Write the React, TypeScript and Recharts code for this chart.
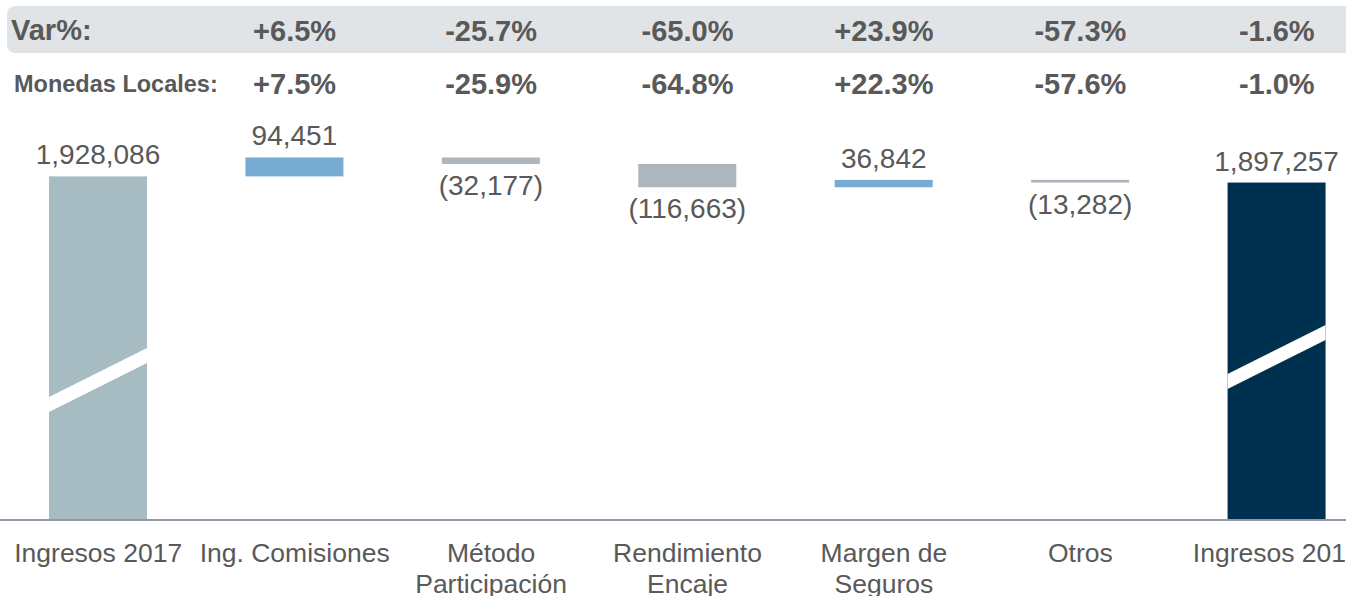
import { BarChart, Bar, XAxis, YAxis, Cell, LabelList } from 'recharts'

// waterfall: Ingresos 2017 -> Ingresos 2018
const CATEGORIES = [
  'Ingresos 2017',
  'Ing. Comisiones',
  'Método\nParticipación',
  'Rendimiento\nEncaje',
  'Margen de\nSeguros',
  'Otros',
  'Ingresos 2018',
]
const AMOUNTS = [1928086, 94451, -32177, -116663, 36842, -13282, 1897257]
const IS_TOTAL = [true, false, false, false, false, false, true]
const VAR_PCT = ['', '+6.5%', '-25.7%', '-65.0%', '+23.9%', '-57.3%', '-1.6%']
const LOCAL_PCT = ['', '+7.5%', '-25.9%', '-64.8%', '+22.3%', '-57.6%', '-1.0%']

const TEXT = '#595959'
const FONT = '"Liberation Sans", Arial, sans-serif'
const COLOR_START = '#a6bbc2'
const COLOR_END = '#00304f'
const COLOR_UP = '#77abd2'
const COLOR_DOWN = '#adb5bd'

// axis is cut (broken bars), so the domain doesn't start at zero
const Y_DOMAIN = [210000, 2260000]

// where the white "break" stripe sits, measured up from the baseline
const BREAK_LIFT: Record<string, number> = { 'Ingresos 2017': 108, 'Ingresos 2018': 131 }

function buildRows() {
  let running = 0
  return CATEGORIES.map((name, i) => {
    const amt = AMOUNTS[i]
    let range: [number, number]
    if (IS_TOTAL[i]) {
      range = [0, amt]
      running = amt
    } else {
      const next = running + amt
      range = [Math.min(running, next), Math.max(running, next)]
      running = next
    }
    return { name, amount: amt, total: IS_TOTAL[i], range }
  })
}

const rows = buildRows()

function barColor(i: number) {
  if (i === 0) return COLOR_START
  if (IS_TOTAL[i]) return COLOR_END
  return AMOUNTS[i] >= 0 ? COLOR_UP : COLOR_DOWN
}

function fmtAmount(v: number) {
  const s = Math.abs(v).toLocaleString('en-US')
  return v < 0 ? `(${s})` : s
}

function WaterfallBar(props: any) {
  const { x, y, width, height, fill, payload, background } = props
  const top = Math.min(y, y + height)
  const h = Math.abs(height)
  const shapes = [<rect key="r" x={x} y={top} width={width} height={h} fill={fill} />]
  if (payload?.total) {
    const bottom = background ? background.y + background.height : top + h
    const lift = BREAK_LIFT[payload.name] ?? 110
    const rise = 49
    const thick = 15
    const pts = [
      [x, bottom - lift],
      [x + width, bottom - lift - rise],
      [x + width, bottom - lift - rise - thick],
      [x, bottom - lift - thick],
    ]
    shapes.push(<polygon key="b" points={pts.map((p) => p.join(',')).join(' ')} fill="#ffffff" />)
  }
  return <g>{shapes}</g>
}

function AmountLabel(props: any) {
  const { x, y, width, height, index } = props
  const amt = AMOUNTS[index]
  if (amt === undefined) return null
  const top = Math.min(y, y + height)
  const bottom = top + Math.abs(height)
  const cx = x + width / 2
  const ty = amt >= 0 ? top - 12 : bottom + 31
  return (
    <text x={cx} y={ty} textAnchor="middle" fill={TEXT} fontSize={28} fontFamily={FONT}>
      {fmtAmount(amt)}
    </text>
  )
}

function HeaderTick(props: any) {
  const { x, payload } = props
  const i = payload.index
  return (
    <g fontFamily={FONT} fontWeight="bold" fontSize={29} fill={TEXT}>
      <text x={x} y={41} textAnchor="middle">{VAR_PCT[i]}</text>
      <text x={x} y={94} textAnchor="middle">{LOCAL_PCT[i]}</text>
    </g>
  )
}

function CategoryTick(props: any) {
  const { x, y, payload } = props
  const lines = String(payload.value).split('\n')
  return (
    <text x={x} y={y} textAnchor="middle" fill={TEXT} fontSize={26.5} fontFamily={FONT}>
      {lines.map((ln, k) => (
        <tspan key={k} x={x} dy={k === 0 ? 42 : 31}>{ln}</tspan>
      ))}
    </text>
  )
}

export default function App() {
  return (
    <div style={{ position: 'fixed', left: 0, top: 0, width: 1346, height: 596, overflow: 'hidden', background: '#fff' }}>
      {/* grey band behind the Var% row */}
      <div
        style={{
          position: 'absolute',
          left: 7,
          top: 6,
          width: 1400,
          height: 47,
          background: '#e1e4e7',
          borderRadius: 8,
        }}
      />
      <div style={{ position: 'absolute', left: 11, top: 4, height: 53, lineHeight: '53px', fontFamily: FONT, fontWeight: 'bold', fontSize: 29, color: TEXT }}>
        Var%:
      </div>
      <div style={{ position: 'absolute', left: 14, top: 61, height: 46, lineHeight: '46px', fontFamily: FONT, fontWeight: 'bold', fontSize: 23.5, color: TEXT }}>
        Monedas Locales:
      </div>
      <div style={{ position: 'absolute', left: 0, top: 0 }}>
        <BarChart width={1375} height={596} data={rows} margin={{ top: 0, right: 0, left: 0, bottom: 0 }} barSize={98}>
          <XAxis
            xAxisId="head"
            orientation="top"
            dataKey="name"
            height={110}
            axisLine={false}
            tickLine={false}
            tick={<HeaderTick />}
            interval={0}
          />
          <XAxis
            dataKey="name"
            height={76}
            axisLine={{ stroke: '#8e9ba6', strokeWidth: 2 }}
            tickLine={false}
            tickSize={0}
            tickMargin={0}
            tick={<CategoryTick />}
            interval={0}
          />
          <YAxis hide domain={Y_DOMAIN} allowDataOverflow />
          <Bar dataKey="range" shape={<WaterfallBar />} isAnimationActive={false}>
            {rows.map((r, i) => (
              <Cell key={r.name} fill={barColor(i)} />
            ))}
            <LabelList dataKey="amount" content={<AmountLabel />} />
          </Bar>
        </BarChart>
      </div>
    </div>
  )
}
